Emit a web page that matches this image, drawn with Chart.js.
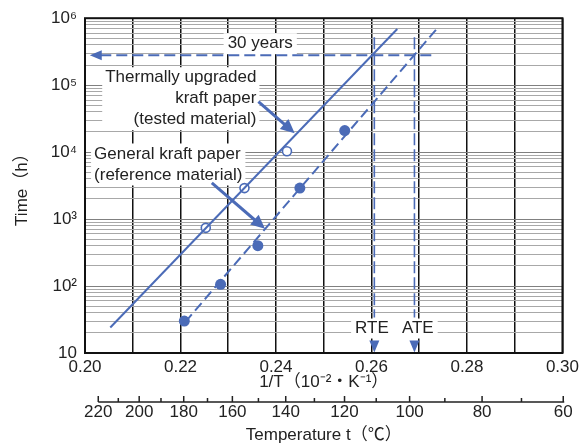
<!DOCTYPE html>
<html>
<head>
<meta charset="utf-8">
<script src="https://cdn.jsdelivr.net/npm/chart.js@4.4.0/dist/chart.umd.min.js"></script>
<style>
  body { margin: 0; background: #fff; }
</style>
</head>
<body>
<canvas id="chart" width="583" height="444"></canvas>
<script>
// measured points, x = 1/T (10^-2 K^-1), y = time (h)
const testedX = [0.2253, 0.2334, 0.2423];
const testedY = [740, 2900, 10300];
const generalX = [0.2208, 0.2284, 0.2362, 0.2450, 0.2544];
const generalY = [30, 106, 400, 2900, 21000];

// regression lines (end points)
const testedFitX = [0.2053, 0.2654];
const testedFitY = [24, 690000];
const generalFitX = [0.2210, 0.2735];
const generalFitY = [29, 670000];

// 30 years reference and RTE / ATE markers
const thirtyYearsX = [0.2032, 0.2732];
const thirtyYearsY = [280000, 280000];
const rteX = 0.2606;
const ateX = 0.2690;
const markerY = [520000, 34];

// axes
const xGrid = [0.20, 0.21, 0.22, 0.23, 0.24, 0.25, 0.26, 0.27, 0.28, 0.29, 0.30];
const xTicks = ['0.20', '0.22', '0.24', '0.26', '0.28', '0.30'];
const yDecades = [10, 100, 1000, 10000, 100000, 1000000];
const tempTicks = [220, 200, 180, 160, 140, 120, 100, 80, 60];
const tempMinor = [210, 190, 170, 150, 130, 110, 90, 70];

const blue = '#4b6bb7';
const ink = '#222';
const FONT = '"Liberation Sans", Arial, Helvetica, "Noto Sans CJK JP", sans-serif';

const invT = t => 100 / (t + 273.15);
const pts = (xs, ys) => xs.map((x, i) => ({ x: x, y: ys[i] }));
const sup = { 1: '', 2: '²', 3: '³', 4: '⁴', 5: '⁵', 6: '⁶' };

// annotation text (anchored in data units)
const labelBlocks = [
  { x: 0.2359, y: 129000, align: 'right', lines: ['Thermally upgraded', 'kraft paper', '(tested material)'] },
  { x: 0.2019, y: 9380, align: 'left', lines: ['General kraft paper', '(reference material)'] },
  { x: 0.2367, y: 416000, align: 'center', lines: ['30 years'] }
];
const markerLabels = [
  { x: 0.2601, y: 23.2, text: 'RTE' },
  { x: 0.2697, y: 23.2, text: 'ATE' }
];
const arrows = [
  { from: [0.23631, 56800], to: [0.24392, 19200] },
  { from: [0.22656, 3480], to: [0.23770, 716] }
];

function drawHead(ctx, tx, ty, ux, uy, len, half) {
  const bx = tx - ux * len, by = ty - uy * len;
  ctx.beginPath();
  ctx.moveTo(tx, ty);
  ctx.lineTo(bx - uy * half, by + ux * half);
  ctx.lineTo(bx + uy * half, by - ux * half);
  ctx.closePath();
  ctx.fill();
}

const notes = {
  id: 'notes',
  beforeDatasetsDraw(chart) {
    const { ctx, scales: { x, y } } = chart;
    ctx.save();
    ctx.font = '17px ' + FONT;
    ctx.fillStyle = '#fff';
    labelBlocks.forEach(b => {
      const px = x.getPixelForValue(b.x), py = y.getPixelForValue(b.y);
      const w = Math.max(...b.lines.map(l => ctx.measureText(l).width));
      let left = px - 3;
      if (b.align === 'right') left = px - w - 3;
      if (b.align === 'center') left = px - w / 2 - 4;
      ctx.fillRect(left, py - 10.5, w + (b.align === 'center' ? 8 : 6), 21 * b.lines.length);
    });
    const mx = markerLabels.map(m => x.getPixelForValue(m.x));
    const my = y.getPixelForValue(markerLabels[0].y);
    const w0 = ctx.measureText(markerLabels[0].text).width;
    const w1 = ctx.measureText(markerLabels[1].text).width;
    ctx.fillRect(mx[0] - w0 / 2 - 4, my - 10, mx[1] + w1 / 2 + 4 - (mx[0] - w0 / 2 - 4), 20);
    ctx.restore();
  },
  afterDatasetsDraw(chart) {
    const { ctx, scales: { x, y } } = chart;
    ctx.save();
    ctx.font = '17px ' + FONT;
    ctx.fillStyle = ink;
    ctx.textBaseline = 'middle';
    labelBlocks.forEach(b => {
      ctx.textAlign = b.align;
      const px = x.getPixelForValue(b.x), py = y.getPixelForValue(b.y);
      b.lines.forEach((l, i) => ctx.fillText(l, px, py + i * 21));
    });
    ctx.textAlign = 'center';
    markerLabels.forEach(m => ctx.fillText(m.text, x.getPixelForValue(m.x), y.getPixelForValue(m.y)));

    // pointer arrows
    ctx.strokeStyle = blue;
    ctx.fillStyle = blue;
    ctx.lineWidth = 3;
    arrows.forEach(a => {
      const x0 = x.getPixelForValue(a.from[0]), y0 = y.getPixelForValue(a.from[1]);
      const x1 = x.getPixelForValue(a.to[0]), y1 = y.getPixelForValue(a.to[1]);
      const d = Math.hypot(x1 - x0, y1 - y0), ux = (x1 - x0) / d, uy = (y1 - y0) / d;
      ctx.beginPath();
      ctx.moveTo(x0, y0);
      ctx.lineTo(x1 - ux * 10, y1 - uy * 10);
      ctx.stroke();
      drawHead(ctx, x1, y1, ux, uy, 14, 6.5);
    });

    // heads of the dashed guides
    drawHead(ctx, x.getPixelForValue(0.2010), y.getPixelForValue(thirtyYearsY[0]), -1, 0, 12, 5);
    [rteX, ateX].forEach(v => drawHead(ctx, x.getPixelForValue(v), y.getPixelForValue(10.2), 0, 1, 12, 5));
    ctx.restore();
  },
  afterDraw(chart) {
    const { ctx, chartArea: ca, scales: { x2 } } = chart;
    ctx.save();
    ctx.strokeStyle = '#111';
    ctx.lineWidth = 2;
    ctx.strokeRect(ca.left, ca.top, ca.right - ca.left, ca.bottom - ca.top);

    // temperature axis: line with ticks pointing up
    const ly = x2.top + 9;
    ctx.strokeStyle = ink;
    ctx.lineWidth = 1.5;
    ctx.beginPath();
    ctx.moveTo(x2.getPixelForValue(invT(tempTicks[0])), ly);
    ctx.lineTo(x2.getPixelForValue(invT(tempTicks[tempTicks.length - 1])) + 1, ly);
    tempTicks.forEach(t => {
      const px = x2.getPixelForValue(invT(t));
      ctx.moveTo(px, ly);
      ctx.lineTo(px, ly - 6);
    });
    tempMinor.forEach(t => {
      const px = x2.getPixelForValue(invT(t));
      ctx.moveTo(px, ly);
      ctx.lineTo(px, ly - 4);
    });
    ctx.stroke();
    ctx.restore();
  }
};

new Chart(document.getElementById('chart'), {
  type: 'scatter',
  data: {
    datasets: [
      {
        label: 'tested fit', data: pts(testedFitX, testedFitY), showLine: true,
        borderColor: blue, borderWidth: 2, pointRadius: 0
      },
      {
        label: 'general fit', data: pts(generalFitX, generalFitY), showLine: true,
        borderColor: blue, borderWidth: 2, borderDash: [10, 5], pointRadius: 0
      },
      {
        label: '30 years', data: pts(thirtyYearsX, thirtyYearsY), showLine: true,
        borderColor: blue, borderWidth: 2, borderDash: [11, 5], pointRadius: 0
      },
      {
        label: 'RTE', data: pts([rteX, rteX], markerY), showLine: true,
        borderColor: blue, borderWidth: 1.6, borderDash: [12, 4], pointRadius: 0
      },
      {
        label: 'ATE', data: pts([ateX, ateX], markerY), showLine: true,
        borderColor: blue, borderWidth: 1.6, borderDash: [12, 4], pointRadius: 0
      },
      {
        label: 'General kraft paper', data: pts(generalX, generalY),
        pointRadius: 5.5, pointBackgroundColor: blue, pointBorderColor: blue, pointBorderWidth: 0
      },
      {
        label: 'Thermally upgraded kraft paper', data: pts(testedX, testedY),
        pointRadius: 4.5, pointBackgroundColor: '#fff', pointBorderColor: blue, pointBorderWidth: 1.6
      }
    ]
  },
  options: {
    responsive: false,
    animation: false,
    devicePixelRatio: 1,
    layout: { padding: { top: 16, right: 16, left: 0, bottom: 0 } },
    plugins: { legend: { display: false }, tooltip: { enabled: false } },
    scales: {
      x: {
        type: 'linear', min: 0.2, max: 0.3, position: 'bottom', weight: 0,
        afterBuildTicks: s => { s.ticks = xGrid.map(v => ({ value: v })); },
        afterFit: s => { s.height = 40; },
        grid: { color: '#111', lineWidth: 1.5, drawTicks: false },
        border: { display: false },
        ticks: {
          autoSkip: false, maxRotation: 0, padding: 4, color: ink,
          font: { family: FONT, size: 17 },
          callback: v => xTicks.includes(v.toFixed(2)) ? v.toFixed(2) : ''
        },
        title: {
          display: true, text: '1/T（10⁻²・K⁻¹）', color: ink,
          font: { family: FONT, size: 17 }, padding: { top: 0, bottom: 0 }
        }
      },
      x2: {
        type: 'linear', min: 0.2, max: 0.3, position: 'bottom', weight: 1,
        afterBuildTicks: s => { s.ticks = tempTicks.map(t => ({ value: invT(t) })); },
        afterFit: s => { s.height = 51; },
        grid: { display: false, drawTicks: false },
        border: { display: false },
        ticks: {
          autoSkip: false, maxRotation: 0, padding: 9, color: ink,
          font: { family: FONT, size: 17 },
          callback: (v, i) => String(tempTicks[i])
        },
        title: {
          display: true, text: 'Temperature t（℃）', color: ink,
          font: { family: FONT, size: 17, lineHeight: 1 }, padding: { top: 0, bottom: 0 }
        }
      },
      y: {
        type: 'logarithmic', min: 10, max: 1000000,
        afterBuildTicks: s => {
          const t = [];
          yDecades.forEach(d => {
            for (let m = 1; m <= 9; m++) if (d * m <= 1000000) t.push({ value: d * m });
          });
          s.ticks = t;
        },
        afterFit: s => { s.width = 85; },
        grid: {
          drawTicks: false,
          color: c => yDecades.includes(c.tick.value) ? '#808080' : '#a8a8a8',
          lineWidth: 1
        },
        border: { display: false },
        ticks: {
          autoSkip: false, padding: 8, color: ink,
          font: { family: FONT, size: 17 },
          callback: v => {
            const e = Math.round(Math.log10(v));
            if (Math.abs(Math.log10(v) - e) > 1e-9) return '';
            return '10' + sup[e];
          }
        },
        title: {
          display: true, text: 'Time（h）', color: ink,
          font: { family: FONT, size: 17 }, padding: { top: 12, bottom: 0 }
        }
      }
    }
  },
  plugins: [notes]
});
</script>
</body>
</html>
